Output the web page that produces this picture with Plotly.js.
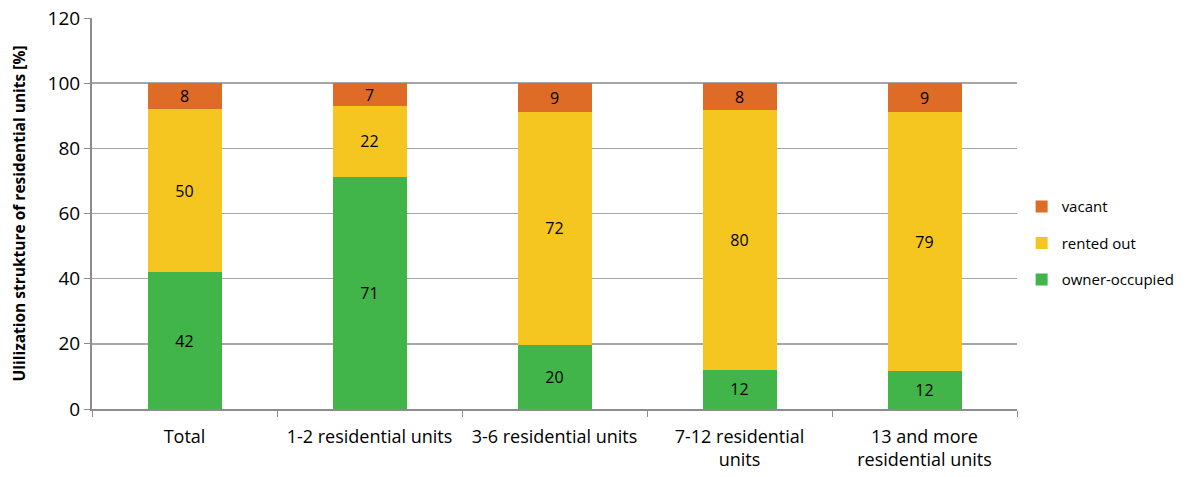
<!DOCTYPE html>
<html>
<head>
<meta charset="utf-8">
<script src="https://cdn.plot.ly/plotly-3.0.1.min.js"></script>
<style>html,body{margin:0;padding:0;background:#fff;}#chart{width:1195px;height:477px;}</style>
</head>
<body>
<div id="chart"></div>
<script>
var categories = ["Total", "1-2 residential units", "3-6 residential units", "7-12 residential<br>units", "13 and more<br>residential units"];
var ownerOccupied = [41.9, 71.2, 19.6, 12.0, 11.6];
var rentedOut = [50.3, 21.8, 71.6, 79.8, 79.4];
var vacant = [7.8, 7.0, 8.8, 8.2, 9.0];
var ownerLabels = ["42", "71", "20", "12", "12"];
var rentedLabels = ["50", "22", "72", "80", "79"];
var vacantLabels = ["8", "7", "9", "8", "9"];
var seriesNames = ["owner-occupied", "rented out", "vacant"];
var colors = ["#41B54A", "#F5C520", "#DE6B26"];
var ranks = [3, 2, 1];

var FONT = "Open Sans, Liberation Sans, sans-serif";
function mk(vals, labels, i) {
  return {
    type: "bar", x: categories, y: vals, name: seriesNames[i], legendgroup: "g" + i,
    legendrank: ranks[i] * 100,
    marker: {color: colors[i], line: {width: 0}},
    text: labels, textposition: "inside", insidetextanchor: "middle",
    constraintext: "none", textangle: 0,
    textfont: {color: "#000", size: 16, family: FONT},
    width: 0.4, hoverinfo: "none"
  };
}
var data = [mk(ownerOccupied, ownerLabels, 0), mk(rentedOut, rentedLabels, 1), mk(vacant, vacantLabels, 2)];
var layout = {
  width: 1195, height: 477,
  margin: {l: 92, r: 178, t: 18, b: 68},
  barmode: "stack",
  paper_bgcolor: "#fff", plot_bgcolor: "#fff",
  font: {family: FONT, color: "#000"},
  showlegend: true,
  legend: {x: 1.005, xanchor: "left", y: 0.424, yanchor: "middle", traceorder: "grouped",
           font: {size: 15, family: FONT}, itemwidth: 30, tracegroupgap: 14, bgcolor: "rgba(0,0,0,0)"},
  xaxis: {
    type: "category", tickangle: 0, tickson: "boundaries", ticks: "outside", ticklen: 6,
    tickcolor: "#8C8C8C", showline: true, linecolor: "#8C8C8C", linewidth: 2,
    tickfont: {size: 18, family: FONT}, showgrid: false, automargin: false, ticklabelstandoff: 10
  },
  yaxis: {
    range: [0, 120], dtick: 20, tick0: 0, ticks: "outside", ticklen: 6, tickcolor: "#8C8C8C",
    showline: true, linecolor: "#8C8C8C", linewidth: 2,
    showgrid: true, gridcolor: "#A6A6A6", gridwidth: 1.5, zeroline: false,
    tickfont: {size: 19, family: FONT},
    title: {text: "Ulilization strukture of residential units [%]", font: {size: 15.5, family: FONT, weight: "bold"}, standoff: 18},
    automargin: false
  }
};
Plotly.newPlot("chart", data, layout, {displayModeBar: false, staticPlot: true});
</script>
</body>
</html>
